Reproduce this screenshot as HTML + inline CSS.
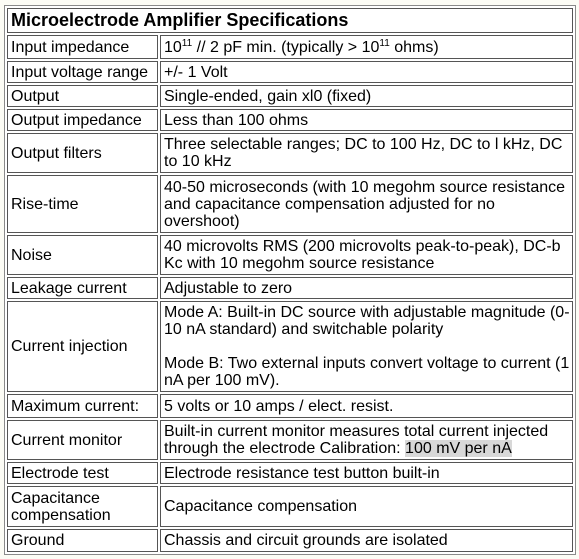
<!DOCTYPE html>
<html><head><meta charset="utf-8"><style>
html,body{margin:0;padding:0;background:#fcfcf5;}
body{width:579px;height:559px;overflow:hidden;font-family:"Liberation Sans",Arial,sans-serif;font-size:16px;color:#000;}
table{position:absolute;left:4px;top:5px;width:572px;border:1px solid #8a8a8a;border-spacing:2px;border-collapse:separate;table-layout:fixed;background:#fff;}
td{border:1px solid #555;padding:0 2px 0 3px;line-height:17px;vertical-align:middle;box-sizing:border-box;overflow:hidden;}
.t{font-weight:bold;font-size:18px;}
sup{font-size:10px;line-height:0;vertical-align:6px;}
.h{background:#d8d8d8;}
</style></head><body>
<table>
<colgroup><col style="width:151px"><col></colgroup>
<tr style="height:25px"><td colspan="2" class="t">Microelectrode Amplifier Specifications</td></tr>
<tr style="height:24px"><td>Input impedance</td><td>10<sup>11</sup> // 2 pF min. (typically &gt; 10<sup>11</sup> ohms)</td></tr>
<tr style="height:22px"><td>Input voltage range</td><td>+/- 1 Volt</td></tr>
<tr style="height:22px"><td>Output</td><td>Single-ended, gain xl0 (fixed)</td></tr>
<tr style="height:22px"><td>Output impedance</td><td>Less than 100 ohms</td></tr>
<tr style="height:40px"><td>Output filters</td><td>Three selectable ranges; DC to 100 Hz, DC to l kHz, DC to 10 kHz</td></tr>
<tr style="height:58px"><td>Rise-time</td><td>40-50 microseconds (with 10 megohm source resistance and capacitance compensation adjusted for no overshoot)</td></tr>
<tr style="height:40px"><td>Noise</td><td>40 microvolts RMS (200 microvolts peak-to-peak), DC-b Kc with 10 megohm source resistance</td></tr>
<tr style="height:22px"><td>Leakage current</td><td>Adjustable to zero</td></tr>
<tr style="height:91px"><td>Current injection</td><td>Mode A: Built-in DC source with adjustable magnitude (0-10 nA standard) and switchable polarity<br><br>Mode B: Two external inputs convert voltage to current (1 nA per 100 mV).</td></tr>
<tr style="height:24px"><td>Maximum current:</td><td>5 volts or 10 amps / elect. resist.</td></tr>
<tr style="height:40px"><td>Current monitor</td><td>Built-in current monitor measures total current injected through the electrode Calibration: <span class="h">100 mV per nA</span></td></tr>
<tr style="height:22px"><td>Electrode test</td><td>Electrode resistance test button built-in</td></tr>
<tr style="height:41px"><td>Capacitance compensation</td><td>Capacitance compensation</td></tr>
<tr style="height:23px"><td>Ground</td><td>Chassis and circuit grounds are isolated</td></tr>
</table>
</body></html>
